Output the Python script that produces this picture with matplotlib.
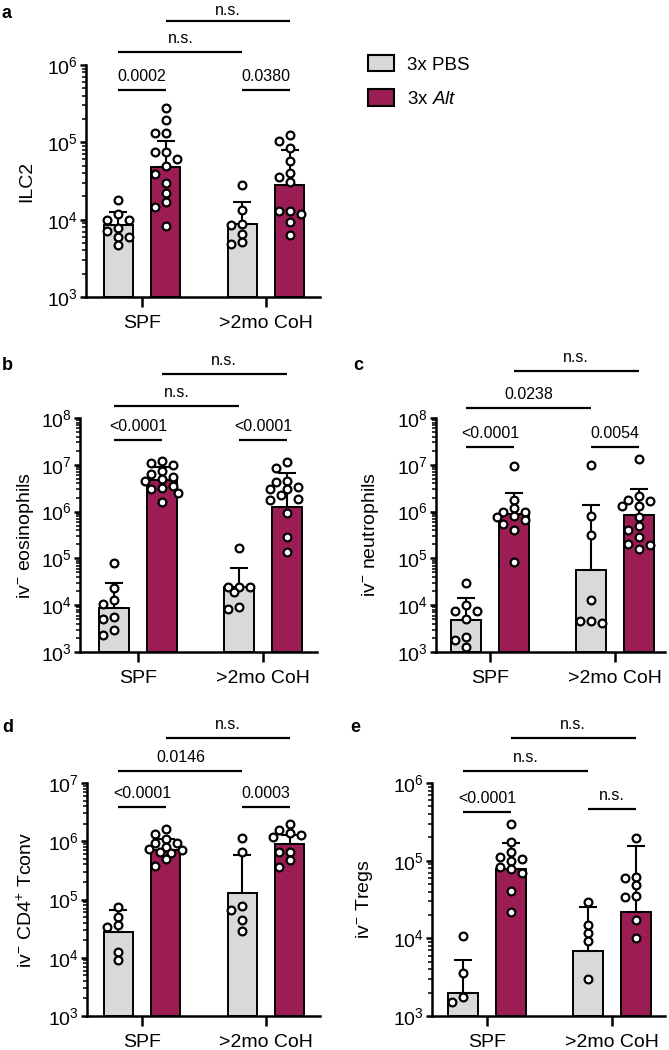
import numpy as np
import matplotlib
matplotlib.use("Agg")
import matplotlib.pyplot as plt
from matplotlib.patches import Patch
from matplotlib.ticker import LogLocator, NullFormatter
import matplotlib.transforms as mtransforms

plt.rcParams['font.family'] = ['Liberation Sans', 'DejaVu Sans']
plt.rcParams['mathtext.fontset'] = 'custom'
plt.rcParams['mathtext.rm'] = 'Liberation Sans'
plt.rcParams['mathtext.it'] = 'Liberation Sans:italic'
plt.rcParams['mathtext.bf'] = 'Liberation Sans:bold'
plt.rcParams['mathtext.sf'] = 'Liberation Sans'

# ---------------- data ----------------
groups = ["SPF", ">2mo CoH"]
treatments = ["3x PBS", r"3x $\mathit{Alt}$"]

# panel a: ILC2
a_spf_pbs = [18000, 12000, 10000, 10000, 7700, 7100, 6000, 5900, 4700]
a_spf_alt = [275000, 195000, 132000, 132000, 76000, 76000, 60000, 49000, 39000, 29500, 22000, 17000, 14500, 8300]
a_coh_pbs = [28000, 13400, 8900, 8500, 6500, 5100, 4900]
a_coh_alt = [126000, 105000, 85000, 57000, 40000, 36000, 31000, 13000, 13000, 11800, 9400, 6300]
a_bar = [8500, 48000, 8700, 28000]
a_err_top = [12600, 105000, 16800, 79000]

# panel b: iv- eosinophils
b_spf_pbs = [81000, 23000, 10500, 13000, 5000, 5600, 2300, 2900]
b_spf_alt = [1.2e7, 1.1e7, 1.0e7, 7.5e6, 6.5e6, 5.5e6, 5.0e6, 4.5e6, 3.5e6, 3.2e6, 3.0e6, 2.5e6, 1.6e6]
b_coh_pbs = [163000, 24500, 24500, 19500, 24000, 8300, 9000]
b_coh_alt = [1.17e7, 8.5e6, 4.6e6, 4.2e6, 3.3e6, 3.1e6, 3.0e6, 2.3e6, 1.9e6, 1.8e6, 9.2e5, 2.9e5, 1.4e5]
b_bar = [8700, 4.8e6, 24500, 1.26e6]
b_err_top = [30000, 9.0e6, 63000, 6.6e6]

# panel c: iv- neutrophils
c_spf_pbs = [30000, 7400, 7600, 10000, 5100, 2100, 1800, 1300]
c_spf_alt = [9.6e6, 1.8e6, 1.2e6, 1.0e6, 1.0e6, 8.0e5, 7.5e5, 6.5e5, 5.5e5, 4.1e5, 8.5e4]
c_coh_pbs = [1.0e7, 8.0e5, 3.2e5, 13000, 4100, 4600, 4600]
c_coh_alt = [1.3e7, 2.2e6, 1.8e6, 1.7e6, 1.3e6, 1.3e6, 7.6e5, 5.0e5, 4.0e5, 2.8e5, 2.0e5, 1.9e5, 1.6e5]
c_bar = [4800, 9.1e5, 56000, 8.5e5]
c_err_top = [14000, 2.5e6, 1.4e6, 3.0e6]

# panel d: iv- CD4+ Tconv
d_spf_pbs = [74000, 50000, 36000, 34000, 12600, 9100]
d_spf_alt = [1.65e6, 1.35e6, 1.1e6, 9.5e5, 9.5e5, 8.0e5, 7.5e5, 7.0e5, 6.5e5, 6.3e5, 5.0e5, 3.8e5]
d_coh_pbs = [1.12e6, 6.6e5, 78000, 66000, 45000, 29000]
d_coh_alt = [2.0e6, 1.55e6, 1.4e6, 1.3e6, 1.2e6, 6.6e5, 6.5e5, 4.7e5, 3.6e5]
d_bar = [28000, 7.0e5, 1.3e5, 9.0e5]
d_err_top = [66000, 1.1e6, 5.8e5, 1.3e6]

# panel e: iv- Tregs
e_spf_pbs = [10700, 3550, 1500, 1780]
e_spf_alt = [295000, 175000, 130000, 110000, 105000, 100000, 82000, 78000, 69000, 41000, 22000]
e_coh_pbs = [29000, 11800, 15000, 9300, 3000]
e_coh_alt = [195000, 62000, 59000, 48000, 34000, 35000, 17400, 10000]
e_bar = [2000, 78000, 6900, 21600]
e_err_top = [5300, 170000, 25000, 155000]

ylabels = ["ILC2", r"iv$^{-}$ eosinophils", r"iv$^{-}$ neutrophils",
           r"iv$^{-}$ CD4$^{+}$ Tconv", r"iv$^{-}$ Tregs"]

# significance labels: (bar i, bar j, text)
a_sig = [(0, 1, "0.0002"), (2, 3, "0.0380"), (0, 2, "n.s."), (1, 3, "n.s.")]
b_sig = [(0, 1, "<0.0001"), (2, 3, "<0.0001"), (0, 2, "n.s."), (1, 3, "n.s.")]
c_sig = [(0, 1, "<0.0001"), (2, 3, "0.0054"), (0, 2, "0.0238"), (1, 3, "n.s.")]
d_sig = [(0, 1, "<0.0001"), (2, 3, "0.0003"), (0, 2, "0.0146"), (1, 3, "n.s.")]
e_sig = [(0, 1, "<0.0001"), (2, 3, "n.s."), (0, 2, "n.s."), (1, 3, "n.s.")]

# ---------------- style / layout ----------------
W, H = 669, 1050
DPI = 100
PBS_COLOR = "#d9d9d9"
ALT_COLOR = "#9b1d54"
fills = [PBS_COLOR, ALT_COLOR, PBS_COLOR, ALT_COLOR]

fig = plt.figure(figsize=(W / DPI, H / DPI), dpi=DPI)

def px_axes(left, right, top, bottom):
    return fig.add_axes([left / W, 1 - bottom / H, (right - left) / W, (bottom - top) / H])

panels = [
    dict(box=(86, 320, 65, 297), ylim=(1e3, 1e6), data=[a_spf_pbs, a_spf_alt, a_coh_pbs, a_coh_alt],
         bar=a_bar, err=a_err_top, sig=a_sig, sigy=[0.892, 0.892, 1.056, 1.19], sigoff=[4.3, 4.3, 4.3, 2.2],
         ylab=ylabels[0], ylab_x=35, letter=("a", 2, 14), xlim=(-0.452, 1.435)),
    dict(box=(80, 317, 418, 652), ylim=(1e3, 1e8), data=[b_spf_pbs, b_spf_alt, b_coh_pbs, b_coh_alt],
         bar=b_bar, err=b_err_top, sig=b_sig, sigy=[0.906, 0.906, 1.051, 1.188], sigoff=[4.3] * 4,
         ylab=ylabels[1], ylab_x=36, letter=("b", 2, 366), xlim=(-0.464, 1.432)),
    dict(box=(436, 665, 418, 652), ylim=(1e3, 1e8), data=[c_spf_pbs, c_spf_alt, c_coh_pbs, c_coh_alt],
         bar=c_bar, err=c_err_top, sig=c_sig, sigy=[0.877, 0.877, 1.044, 1.2], sigoff=[4.3] * 4,
         ylab=ylabels[2], ylab_x=381, letter=("c", 353, 366), xlim=(-0.432, 1.40)),
    dict(box=(87, 320, 783, 1016), ylim=(1e3, 1e7), data=[d_spf_pbs, d_spf_alt, d_coh_pbs, d_coh_alt],
         bar=d_bar, err=d_err_top, sig=d_sig, sigy=[0.896, 0.896, 1.053, 1.193], sigoff=[4.3] * 4,
         ylab=ylabels[3], ylab_x=36, letter=("d", 2, 727), xlim=(-0.444, 1.435)),
    dict(box=(432, 665, 783, 1016), ylim=(1e3, 1e6), data=[e_spf_pbs, e_spf_alt, e_coh_pbs, e_coh_alt],
         bar=e_bar, err=e_err_top, sig=e_sig, sigy=[0.877, 0.888, 1.053, 1.192], sigoff=[4.3] * 4,
         ylab=ylabels[4], ylab_x=375, letter=("e", 350, 728), xlim=(-0.44, 1.424)),
]

OFF = 0.19
BW = 0.24
group_x = np.arange(len(groups))
bar_x = np.array([group_x[0] - OFF, group_x[0] + OFF, group_x[1] - OFF, group_x[1] + OFF])

def swarm(ax, xc, vals, min_dist=8.0, step=5.5):
    vals = np.asarray(vals, dtype=float)
    disp = ax.transData.transform(np.column_stack([np.full(len(vals), xc), vals]))
    ys = disp[:, 1]
    x0 = disp[0, 0]
    order = np.argsort(-vals, kind="stable")
    placed = []
    xs = np.zeros(len(vals))
    cands = [0, -2, 2, -1, 1, -3, 3]
    for i in order:
        best = None
        bestd = -1
        for k in cands:
            x = x0 + k * step
            dmin = min([np.hypot(x - px, ys[i] - py) for px, py in placed] + [1e9])
            if dmin >= min_dist:
                best = x
                break
            if dmin > bestd:
                bestd, best = dmin, x
        placed.append((best, ys[i]))
        xs[i] = best
    inv = ax.transData.inverted()
    return inv.transform(np.column_stack([xs, ys]))[:, 0]

for p in panels:
    l, r, t, b = p["box"]
    ax = px_axes(l, r, t, b)
    ax.set_yscale("log")
    ax.set_ylim(*p["ylim"])
    ax.set_xlim(*p["xlim"])
    for s in ["top", "right"]:
        ax.spines[s].set_visible(False)
    for s in ["left", "bottom"]:
        ax.spines[s].set_linewidth(1.8)
    base = p["ylim"][0]
    heights = np.asarray(p["bar"], dtype=float) - base
    ax.bar(bar_x, heights, width=BW, bottom=base, color=fills,
           edgecolor="black", linewidth=1.4, zorder=2)
    for k in range(4):
        ax.errorbar([bar_x[k]], [p["bar"][k]],
                    yerr=[[0], [p["err"][k] - p["bar"][k]]],
                    fmt="none", ecolor="black", elinewidth=1.5, capsize=6.8, capthick=1.5, zorder=3)
    for k in range(4):
        xs = swarm(ax, bar_x[k], p["data"][k])
        ax.plot(xs, p["data"][k], "o", ms=5.6, mfc="white", mec="black", mew=1.6,
                zorder=4, clip_on=False)
    ax.set_xticks(group_x)
    ax.set_xticklabels(groups, fontsize=14)
    ax.tick_params(axis="x", length=7, width=1.8, pad=6)
    ax.yaxis.set_major_locator(LogLocator(base=10, numticks=20))
    ax.yaxis.set_minor_locator(LogLocator(base=10, subs=np.arange(2, 10), numticks=20))
    ax.yaxis.set_minor_formatter(NullFormatter())
    ax.tick_params(axis="y", which="major", length=4.5, width=1.8, pad=1, labelsize=14)
    ax.tick_params(axis="y", which="minor", length=2.6, width=1.1)
    ax.set_ylabel(p["ylab"], fontsize=14)
    tr = mtransforms.blended_transform_factory(fig.transFigure, ax.transAxes)
    ax.yaxis.set_label_coords(p["ylab_x"] / W, 0.5, transform=tr)
    # significance annotations
    trs = mtransforms.blended_transform_factory(ax.transData, ax.transAxes)
    for (i, j, txt), yf, off in zip(p["sig"], p["sigy"], p["sigoff"]):
        ax.plot([bar_x[i], bar_x[j]], [yf, yf], color="black", lw=1.6, transform=trs,
                clip_on=False, solid_capstyle="butt")
        ax.annotate(txt, xy=((bar_x[i] + bar_x[j]) / 2, yf), xycoords=trs,
                    xytext=(0, off), textcoords="offset points", ha="center", va="bottom",
                    fontsize=11.5, annotation_clip=False)
    lt, lx, ly = p["letter"]
    fig.text(lx / W, 1 - ly / H, lt, fontsize=13, fontweight="bold", ha="left", va="center")

handles = [Patch(facecolor=PBS_COLOR, edgecolor="black", linewidth=1.5),
           Patch(facecolor=ALT_COLOR, edgecolor="black", linewidth=1.5)]
fig.legend(handles, treatments, loc="upper left", bbox_to_anchor=(368 / W, 1 - 55 / H),
           frameon=False, fontsize=13.5, handlelength=1.4, handleheight=0.95,
           handletextpad=0.7, labelspacing=0.85, borderpad=0, borderaxespad=0)

fig.savefig("out.png", dpi=DPI)
